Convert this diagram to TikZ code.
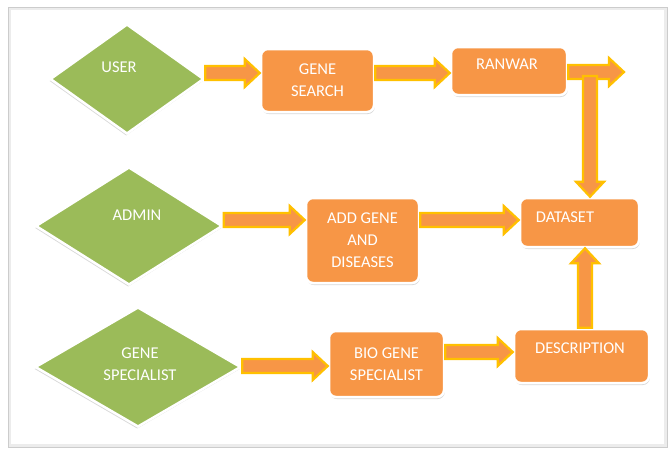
\documentclass[tikz,border=0pt]{standalone}
\usepackage{fontspec}
\setmainfont{Carlito}
\usetikzlibrary{shapes.geometric,calc,shadows}
\definecolor{dgreen}{HTML}{9BBB59}
\definecolor{borange}{HTML}{F79646}
\definecolor{agold}{HTML}{FFC000}
\def\arsw{7pt}\def\arhw{14pt}\def\arhl{15pt}
\newcommand\fatright[2]{\path[fatarrow] let \p1=(#1), \p2=(#2) in
  (\x1,{\y1+\arsw}) -- ({\x2-\arhl},{\y1+\arsw}) -- ({\x2-\arhl},{\y1+\arhw}) -- (\x2,\y1)
  -- ({\x2-\arhl},{\y1-\arhw}) -- ({\x2-\arhl},{\y1-\arsw}) -- (\x1,{\y1-\arsw}) -- cycle;}
\newcommand\fatdown[2]{\path[fatarrow] let \p1=(#1), \p2=(#2) in
  ({\x1-\arsw},\y1) -- ({\x1-\arsw},{\y2+\arhl}) -- ({\x1-\arhw},{\y2+\arhl}) -- (\x1,\y2)
  -- ({\x1+\arhw},{\y2+\arhl}) -- ({\x1+\arsw},{\y2+\arhl}) -- ({\x1+\arsw},\y1) -- cycle;}
\newcommand\fatup[2]{\path[fatarrow] let \p1=(#1), \p2=(#2) in
  ({\x1-\arsw},\y1) -- ({\x1-\arsw},{\y2-\arhl}) -- ({\x1-\arhw},{\y2-\arhl}) -- (\x1,\y2)
  -- ({\x1+\arhw},{\y2-\arhl}) -- ({\x1+\arsw},{\y2-\arhl}) -- ({\x1+\arsw},\y1) -- cycle;}
\begin{document}
\begin{tikzpicture}[x=1pt,y=-1pt,
  font=\fontsize{16.5}{22}\selectfont,
  box/.style={rectangle, rounded corners=7pt, fill=borange, draw=white, line width=2.5pt,
    drop shadow={shadow xshift=0.8pt, shadow yshift=-2pt, opacity=0.3},
    inner sep=0pt, align=center, text=white},
  dia/.style={diamond, fill=dgreen, draw=white, line width=2.5pt, inner sep=0pt,
    drop shadow={shadow xshift=-0.8pt, shadow yshift=-2pt, opacity=0.3}},
  lbl/.style={text=white, align=center, inner sep=0pt},
  fatarrow/.style={fill=borange, draw=agold, line width=2.2pt, line join=miter}]
\useasboundingbox (0,0) rectangle (671,450);
\fill[white] (0,0) rectangle (671,450);
\draw[gray!15, line width=3pt] (9.5,8.5) rectangle (665.5,445.5);
\draw[gray!40, line width=1pt] (8,7) rectangle (667,447);

% diamonds
\node[dia, minimum width=154pt, minimum height=110pt] (user) at (127,79) {};
\node[dia, minimum width=187pt, minimum height=118pt] (admin) at (129,226) {};
\node[dia, minimum width=206pt, minimum height=120pt] (gspec) at (138,367) {};
\node[lbl] (usert) at (119,67) {USER};
\node[lbl] (admint) at (137,215) {ADMIN};
\node[lbl] (gspect) at (140,364) {GENE\\SPECIALIST};

% boxes
\node[box, minimum width=113pt, minimum height=63pt] (gsearch) at (317.5,80.5) {GENE\\SEARCH};
\node[box, minimum width=116pt, minimum height=48pt] (ranwar) at (509,71) {};
\node[box, minimum width=113pt, minimum height=85pt] (addgene) at (362.5,240.5) {ADD GENE\\AND\\DISEASES};
\node[box, minimum width=119pt, minimum height=49pt] (dataset) at (579.5,222.5) {};
\node[box, minimum width=115pt, minimum height=66pt] (biogene) at (386.5,364) {BIO GENE\\SPECIALIST};
\node[box, minimum width=135pt, minimum height=54pt] (descr) at (581.5,356) {};
\node[lbl] (ranwart) at (507,64) {RANWAR};
\node[lbl] (datasett) at (565,217) {DATASET};
\node[lbl] (descrt) at (580,348) {DESCRIPTION};

% helper coordinates
\coordinate (r1) at (0,73);
\coordinate (r1b) at (0,72);
\coordinate (r2) at (0,220);
\coordinate (r3) at (0,366);
\coordinate (r3b) at (0,352);
\coordinate (out) at (624,72);
\coordinate (j) at (590,76);
\coordinate (upx) at (585,0);

% arrows
\fatright{user.east |- r1}{gsearch.west}
\fatright{gsearch.east |- r1}{ranwar.west}
\fatright{ranwar.east |- r1b}{out}
\fatdown{j}{dataset.north -| j}
\fatright{admin.east |- r2}{addgene.west}
\fatright{addgene.east |- r2}{dataset.west}
\fatright{gspec.east |- r3}{biogene.west}
\fatright{biogene.east |- r3b}{descr.west}
\fatup{descr.north -| upx}{dataset.south -| upx}
\end{tikzpicture}
\end{document}
